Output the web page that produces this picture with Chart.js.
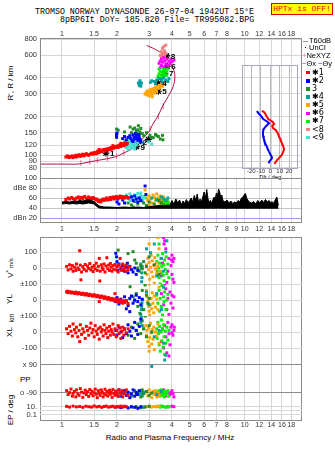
<!DOCTYPE html>
<html><head><meta charset="utf-8">
<script src="https://cdn.jsdelivr.net/npm/chart.js@4.4.1/dist/chart.umd.min.js"></script>
<style>
html,body{margin:0;padding:0;background:#fff}
#wrap{position:relative;width:335px;height:451px;overflow:hidden;background:#fff;font-family:"Liberation Sans",Arial,sans-serif}
canvas{position:absolute;left:0;top:0;pointer-events:none}
.t{position:absolute;white-space:nowrap;color:#000;line-height:1}
.mono{font-family:"Liberation Mono","DejaVu Sans Mono",monospace}
.rot{transform:translate(-50%,-50%) rotate(-90deg)}
.ctr{transform:translate(-50%,-50%)}
.lg{position:absolute;font-size:7.5px;line-height:1;white-space:nowrap;color:#000}
</style></head><body>
<div id="wrap">
<div class="t mono" style="left:35px;top:8px;font-size:8.3px">TROMSO NORWAY   DYNASONDE 26-07-04 1942UT 15°E</div>
<div class="t mono" style="left:60px;top:16px;font-size:8.3px">8pBP6It DoY= 185.820 File= TR995082.BPG</div>
<div class="t mono" style="left:271px;top:3px;width:60px;height:10px;background:#ffff00;border:1px solid #e00000;color:#e00000;font-size:8px;text-align:center;line-height:10px">HPTx is OFF!</div>
<div class="t rot" style="left:11px;top:83px;font-size:8px">R', R / km</div>
<div class="t rot" style="left:10px;top:268px;font-size:8px">V<sup style="font-size:6px">*</sup> <span style="font-size:6px">m/s</span></div>
<div class="t rot" style="left:10px;top:299px;font-size:8px">YL</div>
<div class="t rot" style="left:12px;top:318px;font-size:6.5px">km</div>
<div class="t rot" style="left:10px;top:332px;font-size:8px">XL</div>
<div class="t" style="left:20px;top:376px;font-size:8px">PP</div>
<div class="t rot" style="left:11px;top:410px;font-size:8px">EP / deg</div>
<div class="t ctr" style="left:170px;top:438px;font-size:8px">Radio and Plasma Frequency / MHz</div>
<div class="t ctr" style="left:270px;top:176.5px;font-size:6px">Tilt / deg</div>
<div id="legend"></div>
</div>
<script>
// ---------- axes ----------
const F_MIN = 0.758, F_MAX = 20.6;
const freqTicksTop = [1,1.5,2,3,4,5,6,7,8,10,12,14,16,18];
const freqTicksMid = [1,1.5,2,3,4,5,6,7,8,9,10,12,14,16,18];
const freqTicksBot = [1,1.5,2,3,4,5,6,7,8,10,12,14,16,18];
const heightTicks = [80,90,100,120,150,200,300,400,600,800];
const dbTicks = [20,40,60,80,100];
const dbLabels = {20:'dBn 20',40:'40',60:'60',80:'dBe 80',100:'100'};
const tiltTicks = [-20,-10,0,10,20];

// ---------- series (top panel: frequency MHz, virtual height km) ----------
const hRed = [[1.05,97],[1.07,99],[1.09,96],[1.1,98],[1.12,97],[1.14,99],[1.15,96],[1.17,98],[1.19,100],[1.2,97],[1.22,99],[1.24,101],[1.26,98],[1.28,100],[1.3,102],[1.32,99],[1.34,101],[1.36,103],[1.38,101],[1.4,100],[1.43,102],[1.45,104],[1.48,102],[1.5,105],[1.52,103],[1.55,106],[1.57,108],[1.6,105],[1.62,108],[1.65,107],[1.67,110],[1.7,111],[1.72,108],[1.75,112],[1.78,110],[1.8,113],[1.83,111],[1.85,115],[1.88,112],[1.9,116],[1.93,114],[1.95,117],[1.98,115],[2.0,118],[2.03,115],[2.05,119],[2.08,121],[2.1,117],[2.13,120],[2.15,123],[2.18,119],[2.2,122],[2.23,125],[2.25,121],[2.28,124],[1.6,111],[1.55,103],[1.9,119],[2.1,124]];
const hBlue = [[1.99,138],[1.99,142],[1.99,146],[2.0,149],[2.15,135],[2.2,140],[2.25,132],[2.3,138],[2.35,142],[2.38,135],[2.42,130],[2.45,144],[2.48,138],[2.5,134],[2.52,148],[2.55,141],[2.58,136],[2.6,131],[2.63,145],[2.65,139],[2.68,133],[2.7,128],[2.45,128]];
const hGreen = [[1.99,160],[2.03,157],[2.2,152],[2.36,166],[2.4,150],[2.45,160],[2.5,163],[2.55,155],[2.6,158],[2.62,170],[2.67,152],[2.7,162],[2.75,148],[2.8,142],[2.9,150],[3.03,143],[3.1,138],[3.16,137],[3.25,145],[3.3,142],[3.37,140],[3.45,134],[3.55,143],[3.57,132],[2.58,147],[2.65,145]];
const hTeal = [[2.65,350],[2.67,365],[2.67,380],[2.62,365],[2.72,365],[2.7,345],[3.05,370],[3.1,380],[3.2,375],[3.3,385],[3.4,395],[3.5,390],[3.6,400],[3.7,385],[3.8,375],[3.85,395],[3.25,362],[3.55,372],[2.77,125]];
const hOrange = [[2.85,300],[2.9,310],[2.92,295],[2.95,318],[3.0,305],[3.0,290],[3.05,325],[3.08,312],[3.1,298],[3.15,330],[3.18,318],[3.2,305],[3.25,340],[3.28,325],[3.3,312],[3.35,345],[3.4,332],[3.42,350],[3.45,338],[3.5,355],[3.55,345],[3.6,360],[3.12,285]];
const hMagenta = [[3.4,520],[3.45,540],[3.5,560],[3.5,500],[3.55,530],[3.6,575],[3.6,490],[3.65,545],[3.7,515],[3.75,560],[3.8,500],[3.85,540],[3.9,520],[3.95,560],[4.0,535],[4.1,550],[3.45,480],[3.65,470]];
const hLime = [[3.35,410],[3.4,430],[3.45,400],[3.45,450],[3.5,420],[3.55,440],[3.6,410],[3.6,465],[3.65,430],[3.7,450],[3.75,420],[3.8,470],[3.5,395],[3.4,470]];
const hSalmon = [[3.45,600],[3.5,640],[3.55,680],[3.55,600],[3.6,620],[3.6,700],[3.65,650],[3.5,580],[3.65,590],[3.7,620],[3.7,720]];
const hTurq = [[2.15,122],[2.2,118],[2.2,128],[2.25,115],[2.25,124],[2.3,120],[2.3,131],[2.35,117],[2.35,126],[2.4,114],[2.4,123],[2.4,133],[2.45,119],[2.45,128],[2.5,116],[2.5,124],[2.55,120],[2.55,130],[2.6,125],[2.3,112],[2.5,112],[2.98,127],[3.1,122]];
const neProfile = [[0.76,85.5],[1.0,85.5],[1.23,85.5],[1.37,88],[1.55,91],[1.76,94],[1.99,98],[2.17,104],[2.36,110],[2.51,117],[2.65,126],[2.79,137],[2.97,150],[3.16,177],[3.37,205],[3.58,246],[3.81,286],[4.06,343],[4.15,410],[4.06,475],[3.81,551],[3.51,622],[3.16,680],[2.91,715]];
const neMarks = [[1.27,87],[1.42,89],[1.56,91.5],[1.77,94.5],[1.99,98.5],[2.18,104],[3.03,160],[3.37,200],[3.58,240]];
const markerPts = [[1.74,104],[2.62,128],[2.97,133],[2.56,117],[3.37,365],[3.37,315],[3.77,495],[3.66,435],[3.74,593]];
const markerTxt = ['1','2','','9','4','5','6','7','8'];

// ---------- tilt inset (height km, tilt deg) ----------
const tiltXh = [332,322,297,284,268,255,243,230,220,202,180,161,142,126,107,91,73,56,44,32,21];
const tiltX  = [-8.7,-6,-3.5,-2.1,2.6,4.2,2.1,3.2,5.8,7.9,9.5,11.1,12.3,13.7,14.7,13.7,12.3,9.5,7.4,5.8,4.5];
const tiltYh = [331,319,307,296,284,278,269,259,249,237,225,214,200,184,170,161,143,122,108,93,79,63,53,38,25];
const tiltY  = [-14,-12.6,-10.5,-8.9,-7.4,-5.8,-3.2,-1.1,-3.2,-5.3,-6.8,-7.4,-7.7,-7.4,-6.8,-6.3,-5.3,-3.5,-2.6,-1.3,0,1.6,1.8,-0.5,-1.8];

// ---------- dB panel ----------
const noiseFreq = [1.0,1.05,1.1,1.15,1.2,1.25,1.3,1.35,1.4,1.45,1.5,1.55,1.6,1.7,1.8,2.0,2.2,2.4,2.6,2.8,3.0,3.2,3.4,3.6,3.8,3.9,4.0,4.1,4.2,4.3,4.4,4.5,4.6,4.7,4.8,4.9,5.0,5.1,5.2,5.3,5.4,5.5,5.6,5.7,5.8,5.9,6.0,6.1,6.2,6.3,6.4,6.5,6.6,6.7,6.8,6.9,7.0,7.1,7.2,7.3,7.4,7.5,7.6,7.8,8.0,8.2,8.4,8.6,8.8,9.0,9.2,9.4,9.6,9.8,10.0,10.1,10.3,10.6,10.9,11.2,11.5,11.8,12.1,12.4,12.7,13.0,13.3,13.6,13.9,14.1,14.3,14.5,14.7,15.0,15.3];
const noiseTop  = [52,53,52,54,53,55,54,56,57,55,53,48,44,42,42,41,42,41,42,41,43,44,45,44,46,45,55,48,58,50,56,47,54,49,57,50,55,60,52,65,55,68,50,58,52,62,72,60,77,58,52,55,48,56,62,58,70,64,78,72,60,66,55,52,56,50,54,49,52,50,55,52,60,62,68,69,58,52,50,53,48,55,50,56,51,57,52,55,50,53,48,52,56,62,45,41];
const noiseBase = [48,49,48,49,48,49,48,49,50,49,48,43,40,39.5,39.5,39.5,39.5,39.5,39.5,39.5,39.5,39.5,39.5,39.5,39.5,39.5,39.5,39.5,39.5,39.5,39.5,39.5,39.5,39.5,39.5,39.5,39.5,39.5,39.5,39.5,39.5,39.5,39.5,39.5,39.5,39.5,39.5,39.5,39.5,39.5,39.5,39.5,39.5,39.5,39.5,39.5,39.5,39.5,39.5,39.5,39.5,39.5,39.5,39.5,39.5,39.5,39.5,39.5,39.5,39.5,39.5,39.5,39.5,39.5,39.5,39.5,39.5,39.5,39.5,39.5,39.5,39.5,39.5,39.5,39.5,39.5,39.5,39.5,39.5,39.5,39.5,39.5,39.5,39.5,39.5];
const dRed = [[1.05,57],[1.08,60],[1.1,58],[1.13,61],[1.15,59],[1.18,56],[1.2,60],[1.23,62],[1.25,58],[1.28,61],[1.3,59],[1.33,63],[1.36,60],[1.38,57],[1.4,62],[1.43,60],[1.45,58],[1.48,61],[1.5,59],[1.53,56],[1.55,58],[1.58,53],[1.6,55],[1.63,52],[1.65,56],[1.68,58],[1.7,55],[1.73,57],[1.75,60],[1.78,56],[1.8,58],[1.83,61],[1.85,57],[1.88,60],[1.9,62],[1.93,58],[1.95,61],[1.98,63],[2.0,59],[2.03,62],[2.05,60],[2.08,64],[2.1,61],[2.13,63],[2.15,59],[2.18,62],[2.2,60],[2.25,63],[2.3,61]];
const dBlue = [[2.0,52],[2.02,58],[2.05,48],[2.15,56],[2.2,50],[2.3,60],[2.4,62],[2.45,55],[2.5,64],[2.55,58],[2.6,52],[2.65,60],[2.7,55],[2.85,84],[2.88,67]];
const dGreen = [[2.3,50],[2.4,46],[2.5,53],[2.6,48],[2.7,55],[2.8,50],[2.9,45],[3.0,52],[3.2,48],[3.4,55],[3.5,50],[2.45,42],[3.6,46]];
const dTeal = [[2.72,58],[2.75,54],[3.1,60],[3.3,57],[3.5,62],[3.6,58],[3.7,55],[3.8,60]];
const dOrange = [[2.85,76],[2.9,60],[2.95,55],[3.0,64],[3.05,58],[3.1,50],[3.15,66],[3.2,61],[3.25,55],[3.3,68],[3.35,60],[3.4,52],[3.45,64],[3.5,57],[3.55,48],[3.6,62],[3.0,46]];
const dMagenta = [[3.5,48],[3.6,52],[3.7,46],[3.8,50],[3.9,44],[3.95,48],[4.0,45],[3.75,55]];
const dLime = [[3.35,55],[3.4,60],[3.45,50],[3.5,58],[3.55,62],[3.6,53],[3.65,57],[3.7,49],[3.75,55],[3.8,52],[3.85,47]];
const dSalmon = [[3.5,52],[3.55,47],[3.6,55],[3.65,50],[3.7,45]];
const dTurq = [[2.2,62],[2.25,66],[2.3,60],[2.35,68],[2.4,64],[2.45,58],[2.5,66],[2.55,62],[2.6,69],[2.65,60],[2.7,65],[2.75,57],[2.8,63],[2.35,55],[2.55,56],[2.7,70],[2.85,60]];

// ---------- lower panel: V* (m/s) ----------
const vRed = [[1.06,10],[1.08,-12],[1.1,20],[1.12,-5],[1.14,15],[1.15,-20],[1.17,5],[1.19,-15],[1.2,25],[1.22,0],[1.24,-10],[1.25,108],[1.26,18],[1.27,-74],[1.28,-25],[1.3,8],[1.32,-8],[1.34,22],[1.36,-18],[1.38,12],[1.4,-3],[1.42,28],[1.44,-12],[1.46,5],[1.48,-22],[1.5,15],[1.52,-5],[1.54,30],[1.56,-15],[1.58,10],[1.6,60],[1.61,-81],[1.62,-20],[1.64,20],[1.66,2],[1.68,-10],[1.7,25],[1.72,-25],[1.74,12],[1.76,64],[1.78,-5],[1.8,18],[1.82,-15],[1.84,28],[1.86,5],[1.88,-20],[1.9,15],[1.92,-8],[1.95,22],[1.98,-12],[2.0,10],[2.03,-25],[2.05,20],[2.08,60],[2.1,5],[2.12,-15],[2.15,25],[2.18,-5],[2.2,12],[2.23,-20],[2.25,18],[2.3,-10],[2.35,8]];
const vBlue = [[1.97,92],[1.99,70],[2.0,40],[2.0,10],[2.02,-15],[2.05,25],[2.1,-5],[2.15,15],[2.2,-20],[2.25,5],[2.3,-30],[2.35,10],[2.4,-10],[2.45,-25],[2.5,0],[2.55,-40],[2.6,-15],[2.28,30]];
const vGreen = [[2.03,112],[2.3,90],[2.45,102],[2.5,50],[2.55,30],[2.6,0],[2.65,-20],[2.7,15],[2.75,-5],[2.8,40],[2.85,-30],[3.0,70],[3.2,20],[3.4,-40],[2.9,10]];
const vTeal = [[2.7,25],[2.72,0],[2.73,-30],[2.74,-60],[2.73,-86],[2.75,10],[2.9,120],[3.05,95],[3.2,150],[3.3,-50],[3.5,60],[3.6,-20],[3.75,170],[3.7,100]];
const vOrange = [[2.9,20],[2.92,-40],[2.95,60],[2.98,-10],[3.0,35],[3.02,-70],[3.05,5],[3.08,80],[3.1,-25],[3.12,45],[3.15,-55],[3.18,15],[3.2,-95],[3.22,65],[3.25,-5],[3.28,30],[3.3,-35],[3.35,10],[3.4,120],[3.45,-20],[3.0,150],[3.35,190]];
const vLime = [[3.3,40],[3.32,-20],[3.35,80],[3.38,0],[3.4,-60],[3.42,30],[3.45,-100],[3.48,60],[3.5,-30],[3.52,10],[3.55,90],[3.58,-45],[3.6,20],[3.62,-80],[3.65,50],[3.68,-10],[3.7,-115],[3.72,70],[3.75,-35],[3.8,25],[3.85,-60],[3.4,150]];
const vMagenta = [[3.6,190],[3.65,170],[3.62,150],[3.7,120],[3.5,-50],[3.55,30],[3.75,-90],[3.8,-20],[3.85,60],[3.9,-110],[3.95,15],[4.0,80],[4.05,40],[4.1,60],[4.0,-40],[4.05,-70],[4.1,-90],[3.7,-120],[3.98,50]];

// ---------- lower panel: YL (km) ----------
const yRed = [[1.06,50],[1.07,55],[1.08,46],[1.1,52],[1.12,44],[1.13,50],[1.15,47],[1.17,41],[1.19,49],[1.2,44],[1.22,38],[1.24,46],[1.26,40],[1.28,35],[1.3,43],[1.32,37],[1.34,31],[1.36,40],[1.38,34],[1.4,28],[1.42,36],[1.45,30],[1.47,24],[1.5,33],[1.52,26],[1.55,20],[1.57,29],[1.6,22],[1.62,15],[1.65,25],[1.68,18],[1.7,10],[1.72,20],[1.75,12],[1.78,5],[1.8,15],[1.82,8],[1.85,0],[1.88,10],[1.9,2],[1.93,-5],[1.95,6],[1.98,-2],[2.0,-10],[2.02,3],[2.05,-6],[2.08,-15],[2.1,0],[2.13,-10],[2.15,-20],[2.18,-5],[2.2,-15],[2.25,-8],[2.3,-22],[1.6,-10],[1.95,40]];
const yBlue = [[1.97,-10],[2.0,15],[2.05,-25],[2.1,5],[2.15,-15],[2.2,20],[2.25,-5],[2.3,-35],[2.35,10],[2.4,25],[2.45,-20],[2.5,0],[2.55,30],[2.6,-10],[2.65,15],[2.7,-30],[2.75,5],[2.35,-73],[2.25,-55]];
const yGreen = [[2.36,83],[2.45,20],[2.5,-5],[2.55,40],[2.6,-40],[2.67,-83],[2.75,60],[2.85,94],[2.9,30],[2.95,-20],[3.0,10],[2.8,-60]];
const yTeal = [[2.7,-90],[2.72,-60],[2.73,-40],[2.74,-20],[2.75,0],[2.9,50],[3.0,-30],[3.3,40],[3.5,-60],[3.6,80]];
const yOrange = [[2.9,60],[2.92,20],[2.95,-10],[2.98,-40],[3.0,-70],[3.02,-95],[3.05,-30],[3.08,10],[3.1,-55],[3.12,45],[3.15,-20],[3.18,-80],[3.2,25],[3.25,-45],[3.3,5],[3.35,-60],[3.4,80],[3.0,100]];
const yLime = [[3.3,30],[3.35,-20],[3.4,60],[3.42,-70],[3.45,10],[3.5,-40],[3.52,90],[3.55,-95],[3.6,20],[3.62,-10],[3.65,50],[3.7,-60],[3.75,0],[3.8,35],[3.45,-110],[3.58,120]];
const yMagenta = [[3.5,40],[3.6,-30],[3.7,70],[3.75,-60],[3.8,10],[3.85,-90],[3.9,50],[3.95,-20],[4.0,30],[4.05,-50],[4.1,20],[3.65,100]];

// ---------- lower panel: XL (km) ----------
const xRed = [[1.06,20],[1.08,-10],[1.1,35],[1.12,5],[1.14,-25],[1.15,50],[1.17,15],[1.19,-5],[1.2,30],[1.22,-30],[1.24,10],[1.26,45],[1.28,-15],[1.3,20],[1.32,0],[1.34,-40],[1.36,35],[1.38,10],[1.4,-20],[1.42,25],[1.44,55],[1.46,-5],[1.48,15],[1.5,-30],[1.52,40],[1.54,5],[1.56,-15],[1.58,20],[1.6,-45],[1.62,30],[1.64,0],[1.66,15],[1.68,-25],[1.7,45],[1.72,10],[1.74,-10],[1.76,25],[1.78,-35],[1.8,5],[1.82,35],[1.84,-20],[1.86,15],[1.88,0],[1.9,50],[1.92,-15],[1.95,20],[1.98,-30],[2.0,10],[2.03,40],[2.05,-10],[2.08,25],[2.1,-40],[2.13,5],[2.15,30],[2.18,-20],[2.2,15],[2.25,-5],[2.3,20],[1.25,-60]];
const xBlue = [[1.97,10],[2.0,-20],[2.05,30],[2.1,0],[2.15,-35],[2.2,20],[2.25,-10],[2.3,45],[2.35,5],[2.4,-25],[2.45,25],[2.5,60],[2.55,10],[2.6,-15],[2.65,35],[2.7,80]];
const xGreen = [[2.3,-20],[2.4,30],[2.5,-40],[2.55,10],[2.6,50],[2.7,-10],[2.75,70],[2.8,20],[2.9,-30],[3.0,40],[2.85,100],[3.1,0]];
const xTeal = [[2.7,60],[2.72,90],[2.73,110],[2.75,40],[2.8,20],[3.2,-30],[3.4,10],[3.6,-70],[3.7,-145],[3.65,-175],[3.1,-215]];
const xOrange = [[2.88,40],[2.9,-20],[2.92,10],[2.95,-60],[2.98,25],[3.0,-90],[3.02,-35],[3.05,55],[3.08,-5],[3.1,-75],[3.12,15],[3.15,-45],[3.18,30],[3.2,-110],[3.25,0],[3.3,-25],[3.35,50],[3.4,-70],[3.0,-120]];
const xLime = [[3.3,20],[3.32,-40],[3.35,60],[3.38,-10],[3.4,-80],[3.42,35],[3.45,-120],[3.48,0],[3.5,75],[3.52,-55],[3.55,15],[3.58,-95],[3.6,45],[3.62,-30],[3.65,-140],[3.68,5],[3.7,-70],[3.75,30],[3.8,-50],[3.85,10]];
const xMagenta = [[3.5,-60],[3.55,20],[3.6,-100],[3.65,40],[3.7,-30],[3.75,-130],[3.8,60],[3.85,-10],[3.9,-80],[3.95,30],[4.0,45],[4.05,-20],[4.1,10],[4.0,-5],[3.85,-150],[4.12,30]];

// ---------- lower panel: PP (deg) ----------
const pRed = [[1.06,-75],[1.08,-100],[1.1,-88],[1.12,-65],[1.14,-110],[1.15,-92],[1.17,-80],[1.19,-115],[1.2,-70],[1.22,-95],[1.24,-105],[1.26,-62],[1.28,-85],[1.3,-118],[1.32,-90],[1.34,-72],[1.36,-100],[1.38,-82],[1.4,-112],[1.42,-68],[1.44,-95],[1.46,-78],[1.48,-108],[1.5,-88],[1.52,-65],[1.54,-98],[1.56,-120],[1.58,-75],[1.6,-92],[1.62,-105],[1.64,-70],[1.66,-86],[1.68,-115],[1.7,-95],[1.72,-66],[1.74,-102],[1.76,-80],[1.78,-110],[1.8,-90],[1.82,-72],[1.84,-98],[1.86,-85],[1.88,-118],[1.9,-68],[1.92,-92],[1.95,-105],[1.98,-78],[2.0,-95],[2.03,-112],[2.05,-70],[2.08,-88],[2.1,-100],[2.13,-75],[2.15,-115],[2.18,-85],[2.2,-95],[2.25,-70],[2.3,-105]];
const pBlue = [[1.97,-80],[2.0,-100],[2.05,-70],[2.1,-110],[2.15,-90],[2.2,-75],[2.25,-105],[2.3,-85],[2.35,-120],[2.4,-95],[2.45,-70],[2.5,-110],[2.55,-88],[2.6,-100],[2.65,-75]];
const pGreen = [[2.3,-90],[2.4,-110],[2.5,-75],[2.55,-100],[2.6,-85],[2.7,-115],[2.75,-70],[2.8,-95],[2.9,-80],[3.0,-105],[3.1,-90]];
const pTeal = [[2.7,-95],[2.72,-75],[2.75,-110],[2.8,-85],[3.3,-100],[3.5,-80]];
const pOrange = [[2.9,-85],[2.95,-110],[3.0,-70],[3.05,-95],[3.1,-120],[3.15,-80],[3.2,-100],[3.25,-75],[3.3,-115],[3.35,-90],[3.4,-105]];
const pLime = [[3.3,-85],[3.35,-100],[3.4,-75],[3.42,-110],[3.45,-90],[3.5,-70],[3.52,-105],[3.55,-85],[3.6,-95],[3.62,-115],[3.65,-80],[3.7,-100],[3.75,-90],[3.8,-75],[3.85,-110],[3.48,-95],[3.58,-78]];
const pMagenta = [[3.6,-70],[3.7,-110],[3.8,-85],[3.9,-100],[4.0,-75],[4.05,-95],[4.1,-115],[3.95,-88]];

// ---------- lower panel: EP (deg) ----------
const eRed = [[1.06,12],[1.1,8],[1.15,14],[1.2,9],[1.25,11],[1.3,7],[1.35,13],[1.4,10],[1.45,8],[1.5,15],[1.55,9],[1.6,12],[1.65,7],[1.7,11],[1.75,14],[1.8,8],[1.85,10],[1.9,13],[1.95,7],[2.0,11],[2.05,9],[2.1,14],[2.15,8],[2.2,12],[2.25,10]];
const eBlue = [[2.0,9],[2.1,6],[2.2,12],[2.3,5],[2.4,10],[2.5,7],[2.6,4],[2.7,9]];
const eGreen = [[2.4,8],[2.55,11],[2.7,6],[2.85,9],[3.0,12]];
const eTeal = [[2.72,10],[2.8,7]];
const eOrange = [[2.9,10],[3.0,13],[3.1,8],[3.2,11],[3.3,9],[3.4,14]];
const eLime = [[3.35,12],[3.45,8],[3.5,15],[3.6,10],[3.7,7],[3.8,12],[3.85,9]];
const eMagenta = [[3.6,11],[3.8,9],[4.0,13],[4.1,10]];

// ---------- legend ----------
const legendNames = ['✱1','✱2',' 3','✱4','✱5','✱6','✱7','<8','<9'];
const C = {r:'#ff0000', b:'#0000ff', g:'#228b22', t:'#00a0a0', o:'#ffa500', m:'#ff00ff', l:'#00ee00', s:'#f08080', q:'#40e0d0'};
const legendColors = [C.r,C.b,C.g,C.t,C.o,C.m,C.l,C.s,C.q];

// ================= drawing =================
const W = 335, H = 451;
const wrap = document.getElementById('wrap');
function mkCanvas(){ const c=document.createElement('canvas'); c.width=W; c.height=H; c.style.width=W+'px'; c.style.height=H+'px'; wrap.insertBefore(c, document.getElementById('legend')); return c; }
const framePlugin = (color) => ({id:'frame', afterDraw(ch){ const a=ch.chartArea, c=ch.ctx; c.save(); c.strokeStyle=color; c.lineWidth=1; c.strokeRect(Math.round(a.left)+0.5, Math.round(a.top)+0.5, Math.round(a.right-a.left)-1, Math.round(a.bottom-a.top)); c.restore(); }});
// area = [left, top, right, bottom] of the plot area; axes listed in `sides` fill the whole margin on that side
function mkChart(area, datasets, scales, plugins, sides){
  sides = sides || {};
  const pad = {left: sides.left ? 0 : area[0], top: sides.top ? 0 : area[1], right: W-area[2], bottom: sides.bottom ? 0 : H-area[3]};
  return new Chart(mkCanvas(), {type:'scatter', data:{datasets},
    options:{responsive:false, animation:false, events:[], devicePixelRatio:1,
      layout:{autoPadding:false, padding:pad},
      plugins:{legend:{display:false}, tooltip:{enabled:false}},
      scales}, plugins: plugins||[]});
}
const pts = a => a.map(p=>({x:p[0], y:p[1]}));
const sc = (a, col, r) => ({data:pts(a), pointStyle:'rect', pointRadius:r||2.1, backgroundColor:col, borderWidth:0, showLine:false});
const GRID = '#d6d6d6';
function xLog(ticks, pos, pad, size){
  return {type:'logarithmic', position:pos, min:F_MIN, max:F_MAX,
    afterBuildTicks:s=>{ s.ticks = ticks.map(v=>({value:v})); },
    afterFit:s=>{ s.height=size; },
    ticks:{autoSkip:false, maxRotation:0, minRotation:0, padding:pad, color:'#333', font:{size:7}, callback:v=>String(v)},
    grid:{color:GRID, drawTicks:false}, border:{display:false}};
}
const xHidden = {type:'logarithmic', min:F_MIN, max:F_MAX, display:false};
function yAx(type, min, max, ticks, labels, gridColor){
  return {type, position:'left', min, max,
    afterBuildTicks:s=>{ s.ticks = ticks.map(v=>({value:v})); },
    afterFit:s=>{ s.width=40; },
    ticks:{autoSkip:false, padding:3, color:'#333', font:{size:7.5}, callback:v=>labels(v)},
    grid:{drawTicks:false, color: gridColor || GRID}, border:{display:false}};
}

// Top panel
const markerLabelPlugin = {id:'mk', afterDatasetsDraw(ch){ const c=ch.ctx, xs=ch.scales.x, ys=ch.scales.y; c.save(); c.fillStyle='#000'; c.font='bold 8px "Liberation Sans", Arial'; c.textBaseline='middle';
  markerPts.forEach((p,i)=>{ if(markerTxt[i]) c.fillText(markerTxt[i], xs.getPixelForValue(p[0])+4, ys.getPixelForValue(p[1])+1); }); c.restore(); }};
mkChart([40,38,302,178], [
  sc(hRed,C.r), sc(hBlue,C.b), sc(hTurq,C.q), sc(hGreen,C.g), sc(hTeal,C.t), sc(hOrange,C.o), sc(hLime,C.l), sc(hMagenta,C.m), sc(hSalmon,C.s),
  {data:pts(neProfile), showLine:true, pointRadius:0, borderColor:'#b0103a', borderWidth:1, tension:0.3},
  {data:pts(neMarks), pointStyle:'line', rotation:90, pointRadius:3, borderColor:'#e8709a', borderWidth:1, showLine:false},
  {data:pts(markerPts), pointStyle:'star', pointRadius:3.5, borderColor:'#000', borderWidth:1.2, backgroundColor:'#000', showLine:false}
], {x: xLog(freqTicksTop,'top',0,38), y: yAx('logarithmic',66.6,818,heightTicks,v=>String(v))}, [framePlugin('#8a8a8a'), markerLabelPlugin], {left:true, top:true});

// Tilt inset
mkChart([242,65,297.5,167.5], [
  {data:tiltX.map((v,i)=>({x:v,y:tiltXh[i]})), showLine:true, pointRadius:0, borderColor:'#ff0000', borderWidth:2},
  {data:tiltY.map((v,i)=>({x:v,y:tiltYh[i]})), showLine:true, pointRadius:0, borderColor:'#0000ff', borderWidth:2}
], {
  x:{type:'linear', position:'bottom', min:-29.8, max:28.9, afterBuildTicks:s=>{s.ticks=tiltTicks.map(v=>({value:v}));}, afterFit:s=>{s.height=H-167.5;},
     ticks:{autoSkip:false, maxRotation:0, padding:0, color:'#333', font:{size:6}, callback:v=>String(v)}, grid:{color:'#b8b8c0', drawTicks:false}, border:{display:false}},
  y:{type:'linear', min:0, max:600, display:false}
}, [framePlugin('#a8a8c4')], {bottom:true});

// dB panel
mkChart([40,178,302,222], [
  {data:noiseFreq.map((f,i)=>({x:f,y:noiseBase[i]})), showLine:true, pointRadius:0, borderColor:'#000', borderWidth:1},
  {data:noiseFreq.map((f,i)=>({x:f,y:noiseTop[i]})), showLine:true, pointRadius:0, borderColor:'#000', borderWidth:1, fill:'-1', backgroundColor:'#000'},
  sc(dRed,C.r), sc(dBlue,C.b), sc(dTurq,C.q), sc(dGreen,C.g), sc(dTeal,C.t), sc(dOrange,C.o), sc(dLime,C.l), sc(dMagenta,C.m), sc(dSalmon,C.s)
], {x: xLog(freqTicksMid,'bottom',3,H-222), y: yAx('linear',12,100,dbTicks,v=>dbLabels[v], ctx=> (ctx.tick && ctx.tick.value===20) ? '#9a9ae6' : '#c4c4c4')},
[framePlugin('#8a8a8a')], {left:true, bottom:true});

// Lower panel frame + frequency axis
mkChart([40,237,302,420], [], {x: xLog(freqTicksBot,'bottom',1,H-420), y:{type:'linear', min:0, max:1, display:false}}, [framePlugin('#8a8a8a')], {bottom:true});
// V*
mkChart([40,237,302,284], [sc(vRed,C.r), sc(vBlue,C.b), sc(vGreen,C.g), sc(vTeal,C.t), sc(vOrange,C.o), sc(vLime,C.l), sc(vMagenta,C.m)],
  {x:xHidden, y:yAx('linear',-100,193.75,[100,0],v=>String(v))}, [], {left:true});
// YL
mkChart([40,284,302,316], [sc(yRed,C.r), sc(yBlue,C.b), sc(yGreen,C.g), sc(yTeal,C.t), sc(yOrange,C.o), sc(yLime,C.l), sc(yMagenta,C.m)],
  {x:xHidden, y:yAx('linear',-100,100,[100,0],v=> v===0?'0':'±100')}, [], {left:true});
// XL
mkChart([40,316,302,370], [sc(xRed,C.r), sc(xBlue,C.b), sc(xGreen,C.g), sc(xTeal,C.t), sc(xOrange,C.o), sc(xLime,C.l), sc(xMagenta,C.m)],
  {x:xHidden, y:yAx('linear',-237.5,100,[100,0,-100],v=> v===0?'0':(v>0?'±100':'-100'))}, [], {left:true});
// PP
mkChart([40,357,302,400], [sc(pRed,C.r), sc(pBlue,C.b), sc(pGreen,C.g), sc(pTeal,C.t), sc(pOrange,C.o), sc(pLime,C.l), sc(pMagenta,C.m)],
  {x:xHidden, y:yAx('linear',-135,141.4,[90,-90],v=> v>0?'x 90':'o -90','#8c8c8c')}, [], {left:true});
// EP
mkChart([40,400,302,420], [sc(eRed,C.r), sc(eBlue,C.b), sc(eGreen,C.g), sc(eTeal,C.t), sc(eOrange,C.o), sc(eLime,C.l), sc(eMagenta,C.m)],
  {x:xHidden, y:yAx('logarithmic',0.00624,411,[10,1,0.1],v=> v===10?'10.':(v===0.1?'0.1':''))}, [], {left:true});

// Legend (HTML text)
(function(){
  const L = document.getElementById('legend');
  let h = '';
  h += '<div class="lg" style="left:303px;top:37px"><span style="display:inline-block;width:5px;height:1px;background:#999;vertical-align:middle;margin-right:1px"></span>T60dB</div>';
  h += '<div class="lg" style="left:305px;top:43.5px"><span style="display:inline-block;width:1px;height:1px;background:#000;vertical-align:middle;margin-right:3px"></span>UnCl</div>';
  h += '<div class="lg" style="left:302px;top:52px"><span style="color:#e8709a">+</span>NeXYZ</div>';
  h += '<div class="lg" style="left:302px;top:60px"><span style="color:#e03030">−</span>Θx <span style="color:#3030e0">−</span>Θy</div>';
  legendNames.forEach((n,i)=>{
    const y = 72.7 + i*8.12;
    h += '<div class="lg" style="left:306px;top:'+(y-1.8)+'px;width:3.6px;height:3.6px;background:'+legendColors[i]+'"></div>';
    h += '<div class="lg" style="left:312px;top:'+(y-4)+'px;font-size:8px;font-family:\'DejaVu Sans\',sans-serif">'+n+'</div>';
  });
  L.innerHTML = h;
})();
</script>
</body></html>
